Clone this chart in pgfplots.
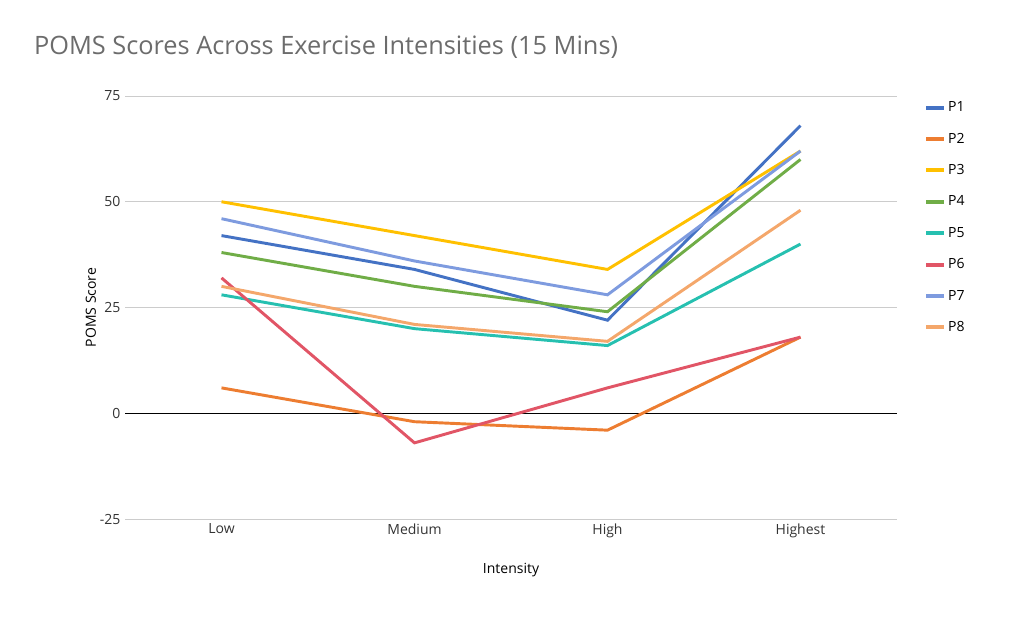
\documentclass[border=0pt]{standalone}
\usepackage{pgfplots}
\pgfplotsset{compat=1.18}
\usepackage{fontspec}
\setmainfont{Open Sans}
\definecolor{c1}{HTML}{4472C4}
\definecolor{c2}{HTML}{ED7D31}
\definecolor{c3}{HTML}{FFC000}
\definecolor{c4}{HTML}{70AD47}
\definecolor{c5}{HTML}{26C0B0}
\definecolor{c6}{HTML}{E15566}
\definecolor{c7}{HTML}{7E9BDF}
\definecolor{c8}{HTML}{F4A76B}
\begin{document}
\begin{tikzpicture}
\useasboundingbox (0pt,0pt) rectangle (768pt,474.75pt);
\node[anchor=west,text=gray!85!black,font=\fontsize{19}{22}\selectfont] at (22pt,439pt) {POMS Scores Across Exercise Intensities (15 Mins)};
\begin{axis}[at={(93.75pt,85.5pt)},anchor=south west,scale only axis,
 width=579pt,height=317.25pt,
 xmin=-0.5,xmax=3.5,ymin=-25,ymax=75,
 xtick={0,1,2,3},xticklabels={Low,Medium,High,Highest},
 ytick={-25,0,25,50,75},
 /pgf/number format/assume math mode=true,
 ymajorgrids,grid style={gray!40},
 axis line style={draw=none},
 tick style={draw=none},
 ticklabel style={font=\fontsize{10.5}{12}\selectfont,text=black!80},
 xlabel={Intensity},ylabel={POMS Score},
 label style={font=\fontsize{10.5}{12}\selectfont},
 xlabel style={yshift=-12pt},
 ylabel style={yshift=-4pt},
 legend style={draw=none,at={(1.03,1)},anchor=north west,font=\fontsize{10.5}{12}\selectfont,row sep=10.5pt},
 legend cell align=left,
 every axis plot/.append style={line width=2.2pt,mark=none},
 legend image code/.code={\draw[#1,line width=3pt] (0cm,0cm) -- (0.45cm,0cm);},
]
\draw[black,line width=0.8pt] (axis cs:-0.5,0) -- (axis cs:3.5,0);
\addplot[c1] coordinates {(0,42)(1,34)(2,22)(3,68)};
\addplot[c2] coordinates {(0,6)(1,-2)(2,-4)(3,18)};
\addplot[c3] coordinates {(0,50)(1,42)(2,34)(3,62)};
\addplot[c4] coordinates {(0,38)(1,30)(2,24)(3,60)};
\addplot[c5] coordinates {(0,28)(1,20)(2,16)(3,40)};
\addplot[c6] coordinates {(0,32)(1,-7)(2,6)(3,18)};
\addplot[c7] coordinates {(0,46)(1,36)(2,28)(3,62)};
\addplot[c8] coordinates {(0,30)(1,21)(2,17)(3,48)};
\legend{P1,P2,P3,P4,P5,P6,P7,P8}
\end{axis}
\end{tikzpicture}
\end{document}
